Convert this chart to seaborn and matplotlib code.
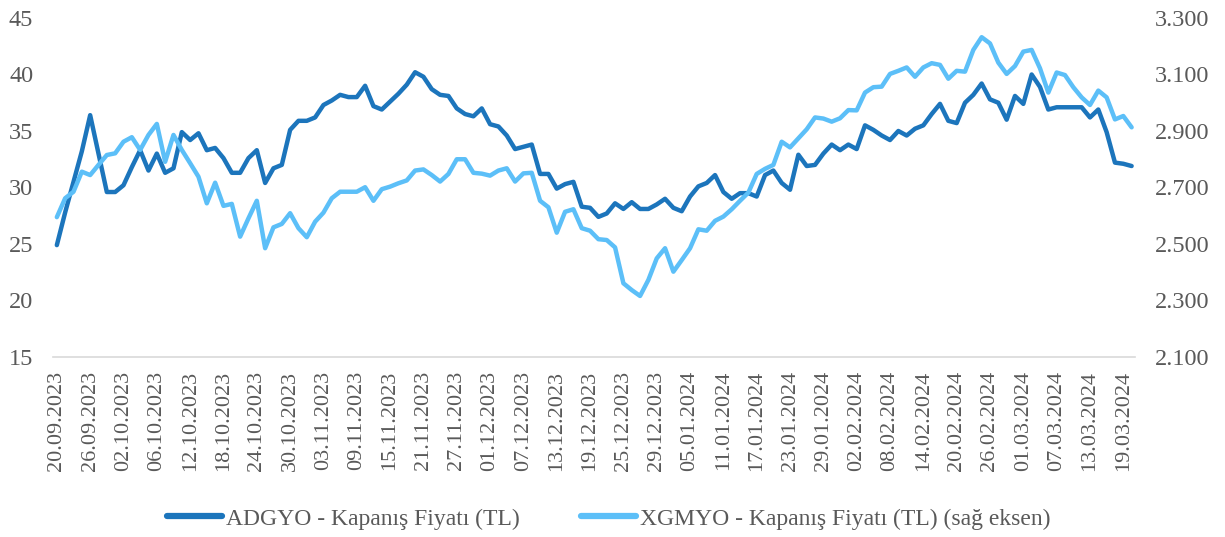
import matplotlib
matplotlib.use("Agg")
import matplotlib.pyplot as plt
from matplotlib.ticker import FuncFormatter
import seaborn as sns
import pandas as pd
import numpy as np

# daily closes, 20.09.2023 - 20.03.2024 (business days)
adgyo = [24.9, 27.8, 30.5, 33.2, 36.4, 33.0, 29.6, 29.6, 30.2, 31.8,
         33.3, 31.5, 33.0, 31.3, 31.7, 34.9, 34.2, 34.8, 33.3, 33.5,
         32.6, 31.3, 31.3, 32.6, 33.3, 30.4, 31.7, 32.0, 35.1, 35.9,
         35.9, 36.2, 37.3, 37.7, 38.2, 38.0, 38.0, 39.0, 37.2, 36.9,
         37.6, 38.3, 39.1, 40.2, 39.8, 38.7, 38.2, 38.1, 37.0, 36.5,
         36.3, 37.0, 35.6, 35.4, 34.6, 33.4, 33.6, 33.8, 31.2, 31.2,
         29.9, 30.3, 30.5, 28.3, 28.2, 27.4, 27.7, 28.6, 28.1, 28.7,
         28.1, 28.1, 28.5, 29.0, 28.2, 27.9, 29.2, 30.1, 30.4, 31.1,
         29.6, 29.0, 29.5, 29.5, 29.2, 31.1, 31.5, 30.4, 29.8, 32.9,
         31.9, 32.0, 33.0, 33.8, 33.3, 33.8, 33.4, 35.5, 35.1, 34.6,
         34.2, 35.0, 34.6, 35.2, 35.5, 36.5, 37.4, 35.9, 35.7, 37.5,
         38.2, 39.2, 37.8, 37.5, 36.0, 38.1, 37.4, 40.0, 38.9, 36.9,
         37.1, 37.1, 37.1, 37.1, 36.2, 36.9, 34.9, 32.2, 32.1, 31.9]

xgmyo = [2595, 2662, 2685, 2756, 2744, 2780, 2815, 2821, 2862, 2878,
         2833, 2886, 2925, 2791, 2886, 2833, 2786, 2738, 2644, 2717,
         2635, 2642, 2526, 2591, 2653, 2485, 2559, 2571, 2609, 2556,
         2524, 2579, 2611, 2662, 2685, 2685, 2685, 2701, 2653, 2694,
         2703, 2715, 2725, 2760, 2764, 2744, 2721, 2748, 2800, 2800,
         2752, 2749, 2742, 2760, 2768, 2721, 2750, 2752, 2653, 2630,
         2540, 2614, 2623, 2556, 2547, 2517, 2514, 2488, 2361, 2337,
         2316, 2373, 2449, 2485, 2402, 2443, 2485, 2552, 2547, 2582,
         2597, 2623, 2653, 2682, 2748, 2766, 2780, 2862, 2842, 2874,
         2906, 2948, 2944, 2933, 2945, 2974, 2973, 3036, 3055, 3057,
         3102, 3113, 3125, 3092, 3125, 3140, 3134, 3085, 3113, 3110,
         3187, 3232, 3210, 3142, 3102, 3130, 3181, 3187, 3122, 3036,
         3107, 3098, 3055, 3019, 2992, 3043, 3019, 2941, 2953, 2913]

tick_labels = ["20.09.2023", "26.09.2023", "02.10.2023", "06.10.2023", "12.10.2023",
               "18.10.2023", "24.10.2023", "30.10.2023", "03.11.2023", "09.11.2023",
               "15.11.2023", "21.11.2023", "27.11.2023", "01.12.2023", "07.12.2023",
               "13.12.2023", "19.12.2023", "25.12.2023", "29.12.2023", "05.01.2024",
               "11.01.2024", "17.01.2024", "23.01.2024", "29.01.2024", "02.02.2024",
               "08.02.2024", "14.02.2024", "20.02.2024", "26.02.2024", "01.03.2024",
               "07.03.2024", "13.03.2024", "19.03.2024"]

label_left = "ADGYO - Kapanış Fiyatı (TL)"
label_right = "XGMYO - Kapanış Fiyatı (TL) (sağ eksen)"

df = pd.DataFrame({"pos": np.arange(len(adgyo)), "adgyo": adgyo, "xgmyo": xgmyo})

sns.set_style("white")
plt.rcParams["font.family"] = ["Liberation Serif", "DejaVu Serif"]
text_color = "#595959"

fig, ax = plt.subplots(figsize=(12.25, 5.37), dpi=100)
fig.subplots_adjust(left=0.043, right=0.9265, top=0.9665, bottom=0.3352)

sns.lineplot(data=df, x="pos", y="adgyo", ax=ax, color="#1c75bc", lw=3.2, label=label_left)
ax2 = ax.twinx()
sns.lineplot(data=df, x="pos", y="xgmyo", ax=ax2, color="#5cbff8", lw=3.2, label=label_right)

ax.set_xlim(-0.5, 129.4)
ax.set_ylim(15, 45)
ax2.set_ylim(2100, 3300)
ax.set_yticks(range(15, 46, 5))
ax2.set_yticks(range(2100, 3301, 200))
ax2.yaxis.set_major_formatter(FuncFormatter(lambda v, p: f"{v:,.0f}".replace(",", ".")))

ax.set_xticks(np.arange(0, len(adgyo), 4))
ax.set_xticklabels(tick_labels, rotation=90)

ax.set_xlabel("")
ax.set_ylabel("")
ax2.set_ylabel("")

for a in (ax, ax2):
    for s in a.spines.values():
        s.set_visible(False)
ax.spines["bottom"].set_visible(True)
ax.spines["bottom"].set_color("#d9d9d9")
ax.spines["bottom"].set_linewidth(1.2)

ax.tick_params(axis="y", length=0, pad=14, labelsize=17.5, labelcolor=text_color)
ax2.tick_params(axis="y", length=0, pad=14, labelsize=17.5, labelcolor=text_color)
ax.tick_params(axis="x", length=0, pad=10, labelsize=16, labelcolor=text_color)

h1, l1 = ax.get_legend_handles_labels()
h2, l2 = ax2.get_legend_handles_labels()
ax.get_legend().remove()
ax2.get_legend().remove()
leg = fig.legend(h1 + h2, l1 + l2, loc="center", bbox_to_anchor=(0.497, 0.034), ncol=2,
                 frameon=False, fontsize=17, handlelength=2.33, columnspacing=2.6,
                 handletextpad=0.17)
for t in leg.get_texts():
    t.set_color(text_color)
for l in leg.get_lines():
    l.set_linewidth(4.5)

fig.savefig("out.png", dpi=100)
